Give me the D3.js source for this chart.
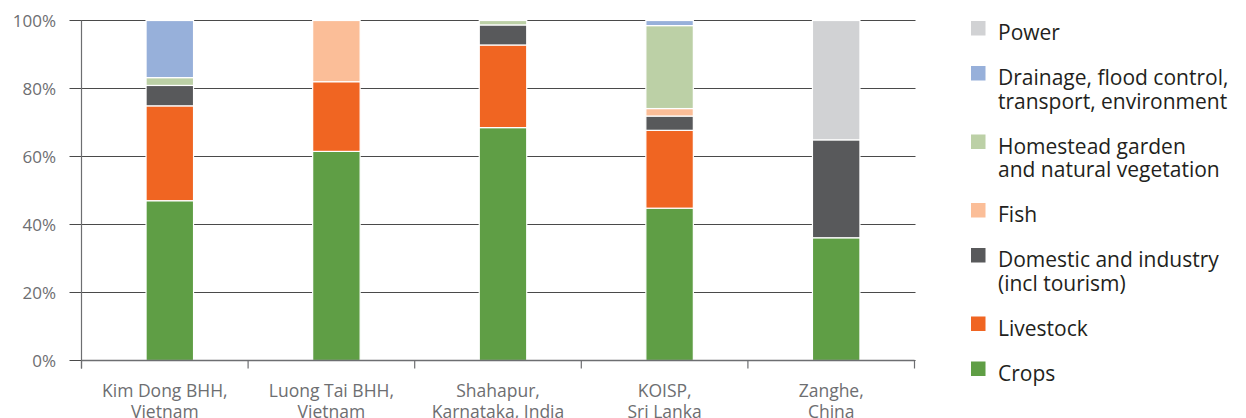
<!DOCTYPE html>
<html>
<head>
<meta charset="utf-8">
<script src="https://cdn.jsdelivr.net/npm/d3@7"></script>
<style>
  html, body { margin: 0; padding: 0; background: #fff; }
  svg { display: block; }
</style>
</head>
<body>
<svg id="chart" width="1246" height="418"></svg>
<script>
// ---- Data ----
const categories = [
  ["Kim Dong BHH,", "Vietnam"],
  ["Luong Tai BHH,", "Vietnam"],
  ["Shahapur,", "Karnataka, India"],
  ["KOISP,", "Sri Lanka"],
  ["Zanghe,", "China"]
];
const seriesNames = ["Crops", "Livestock", "Domestic", "Fish", "Homestead", "Drainage", "Power"];
const legendLabels = [
  ["Crops"],
  ["Livestock"],
  ["Domestic and industry", "(incl tourism)"],
  ["Fish"],
  ["Homestead garden", "and natural vegetation"],
  ["Drainage, flood control,", "transport, environment"],
  ["Power"]
];
const crops     = [47.0, 61.5, 68.5, 44.8, 36.1];
const livestock = [27.9, 20.5, 24.3, 22.9, 0];
const domestic  = [6.0, 0, 5.9, 4.2, 28.8];
const fish      = [0, 18.0, 0, 2.2, 0];
const homestead = [2.3, 0, 1.3, 24.4, 0];
const drainage  = [16.8, 0, 0, 1.5, 0];
const power     = [0, 0, 0, 0, 35.1];
const yTicks = [0, 20, 40, 60, 80, 100];
const colors = ["#5f9e45", "#f06522", "#58595b", "#fbbe98", "#bcd0a6", "#97b0da", "#d1d2d4"];

const seriesValues = [crops, livestock, domestic, fish, homestead, drainage, power];
const rows = categories.map((c, i) => {
  const r = { cat: i };
  seriesNames.forEach((s, k) => r[s] = seriesValues[k][i]);
  return r;
});

// ---- Layout ----
const svg = d3.select("#chart");
const m = { left: 81.5, right: 914.5, top: 20.5, bottom: 360.5 };
const font = "'Open Sans', 'Lato', sans-serif";

const x = d3.scaleBand().domain(d3.range(categories.length)).range([m.left, m.right]).paddingInner(0).paddingOuter(0);
const y = d3.scaleLinear().domain([0, 100]).range([m.bottom, m.top]);
const barW = x.bandwidth() * 0.285;
const barShift = 5;

// gridlines
svg.append("g").selectAll("line").data(yTicks).join("line")
  .attr("x1", m.left - 12).attr("x2", m.right + 1)
  .attr("y1", d => y(d)).attr("y2", d => y(d))
  .attr("stroke", "#4a4a4a").attr("stroke-width", 1.2);

// y labels
svg.append("g").selectAll("text").data(yTicks).join("text")
  .attr("x", 56).attr("y", d => y(d)).attr("dy", "0.36em")
  .attr("text-anchor", "end")
  .attr("font-family", font).attr("font-size", 17).attr("fill", "#6d6e71")
  .text(d => d + "%");

// bars
const stack = d3.stack().keys(seriesNames);
const stacked = stack(rows);
svg.append("g").selectAll("g").data(stacked).join("g")
  .attr("fill", (d, i) => colors[i])
  .selectAll("rect").data(d => d.filter(p => p[1] - p[0] > 0)).join("rect")
  .attr("x", d => x(d.data.cat) + x.bandwidth() / 2 - barW / 2 + barShift)
  .attr("width", barW)
  .attr("y", d => y(d[1]))
  .attr("height", d => y(d[0]) - y(d[1]))
  .attr("stroke", "#ffffff").attr("stroke-width", 1.2);

// axes lines
svg.append("line").attr("x1", m.left).attr("x2", m.left).attr("y1", m.top).attr("y2", m.bottom + 8)
  .attr("stroke", "#6d6e71").attr("stroke-width", 1.2);
svg.append("line").attr("x1", m.left).attr("x2", m.right).attr("y1", m.bottom).attr("y2", m.bottom)
  .attr("stroke", "#6d6e71").attr("stroke-width", 1.4);
const bounds = d3.range(categories.length + 1).map(i => i < categories.length ? x(i) : m.right);
svg.append("g").selectAll("line").data(bounds).join("line")
  .attr("x1", d => d).attr("x2", d => d).attr("y1", m.bottom).attr("y2", m.bottom + 8)
  .attr("stroke", "#6d6e71").attr("stroke-width", 1.2);

// x labels
const xl = svg.append("g").selectAll("text").data(categories).join("text")
  .attr("text-anchor", "middle")
  .attr("font-family", font).attr("font-size", 17.5).attr("fill", "#6d6e71")
  .attr("transform", (d, i) => `translate(${x(i) + x.bandwidth() / 2},396.5)`);
xl.selectAll("tspan").data(d => d).join("tspan")
  .attr("x", 0).attr("dy", (d, i) => i === 0 ? 0 : 21.8).text(d => d);

// legend (top to bottom: reverse order)
const legendOrder = d3.range(seriesNames.length).reverse();
let baseY = 40;
const lg = svg.append("g");
legendOrder.forEach(k => {
  const lines = legendLabels[k];
  lg.append("rect").attr("x", 971).attr("y", baseY - 19).attr("width", 14.5).attr("height", 14.5).attr("fill", colors[k]);
  const t = lg.append("text").attr("font-family", font).attr("font-size", 21).attr("fill", "#231f20");
  lines.forEach((ln, j) => t.append("tspan").attr("x", 998).attr("y", baseY + j * 23.5).text(ln));
  baseY += 45 + 23.5 * (lines.length - 1);
});
</script>
</body>
</html>
